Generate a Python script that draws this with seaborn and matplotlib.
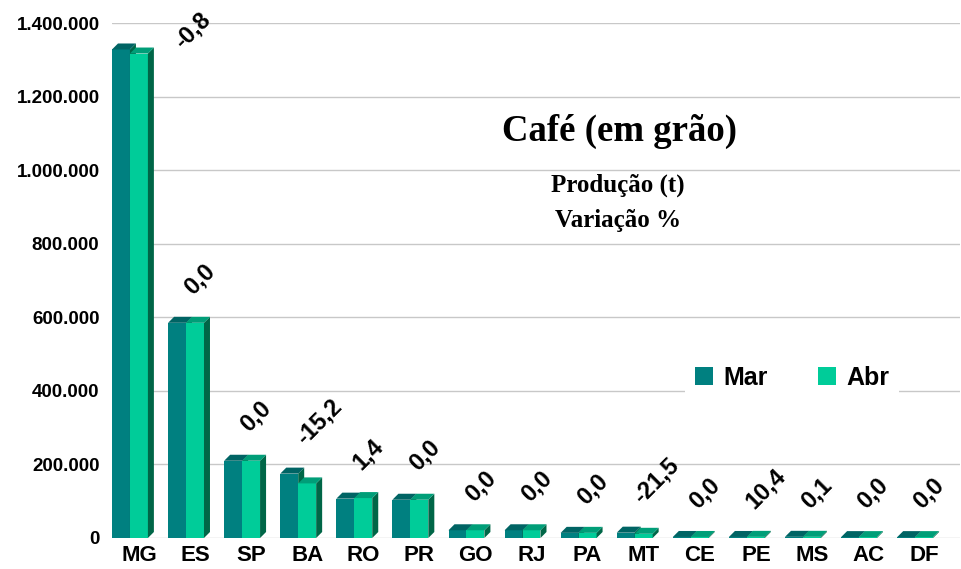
import pandas as pd
import matplotlib.pyplot as plt
import seaborn as sb
from matplotlib.patches import Polygon, Patch
from matplotlib.transforms import IdentityTransform, ScaledTranslation

# Produção de café em grão (t) por UF - março e abril
estados = ["MG", "ES", "SP", "BA", "RO", "PR", "GO", "RJ", "PA", "MT",
           "CE", "PE", "MS", "AC", "DF"]
producao_mar = [1328000, 585000, 210000, 175000, 107000, 104000, 21000, 21000,
                14000, 14500, 2800, 2800, 3200, 2400, 2400]
producao_abr = [1317000, 585000, 210000, 148400, 108500, 104000, 21000, 21000,
                14000, 11400, 2800, 3100, 3200, 2400, 2400]
variacao = ["-0,8", "0,0", "0,0", "-15,2", "1,4", "0,0", "0,0", "0,0", "0,0",
            "-21,5", "0,0", "10,4", "0,1", "0,0", "0,0"]
meses = ["Mar", "Abr"]
yticks = [0, 200000, 400000, 600000, 800000, 1000000, 1200000, 1400000]

cores = {"Mar": "#008080", "Abr": "#00CC99"}
cores_topo = {"Mar": "#006464", "Abr": "#009E78"}
cor_lado = "#006647"

df = pd.DataFrame({
    "Estado": estados * 2,
    "Mês": ["Mar"] * len(estados) + ["Abr"] * len(estados),
    "Produção": producao_mar + producao_abr,
})

sb.set_style("white")
plt.rcParams["font.family"] = ["Liberation Sans", "DejaVu Sans"]
plt.rcParams["text.color"] = "black"
plt.rcParams["xtick.color"] = "black"
plt.rcParams["ytick.color"] = "black"

fig = plt.figure(figsize=(9.62, 5.69), dpi=100)
ax = fig.add_axes([112 / 962, 31 / 569, 848 / 962, 515 / 569])

sb.barplot(data=df, x="Estado", y="Produção", hue="Mês", hue_order=meses,
           palette=cores, width=0.64, saturation=1, linewidth=0,
           legend=False, ax=ax)

ax.set_xlim(-0.32, 14.8)
ax.set_ylim(0, 1400000)
ax.set_yticks(yticks)
ax.set_yticklabels([f"{v:,}".replace(",", ".") for v in yticks],
                   fontsize=13.5, fontweight="bold", color="black")
ax.set_xticks(range(len(estados)))
ax.set_xticklabels(estados, fontsize=16, fontweight="bold", color="black")
ax.tick_params(axis="y", length=0, pad=9)
ax.tick_params(axis="x", length=0, pad=5)
for lab in ax.get_xticklabels():
    lab.set_transform(lab.get_transform() + ScaledTranslation(0.09, 0, fig.dpi_scale_trans))
ax.set_xlabel("")
ax.set_ylabel("")
ax.yaxis.grid(True, color="#c8c8c8", lw=1)
ax.set_axisbelow(True)
sb.despine(ax=ax, left=True, bottom=True)

# efeito 3D: faces lateral e superior de cada barra
fig.canvas.draw()
dx, dy = 6, 6
n = len(estados)
for k, barra in enumerate(list(ax.patches)):
    mes = meses[k // n]
    z = 2 if mes == "Mar" else 3
    barra.set_zorder(z)
    (x0, y0), (x1, y1) = ax.transData.transform(
        [(barra.get_x(), 0), (barra.get_x() + barra.get_width(), barra.get_height())])
    lado = [(x1, y0), (x1 + dx, y0 + dy), (x1 + dx, y1 + dy), (x1, y1)]
    topo = [(x0, y1), (x0 + dx, y1 + dy), (x1 + dx, y1 + dy), (x1, y1)]
    ax.add_patch(Polygon(lado, closed=True, facecolor=cor_lado, lw=0,
                         transform=IdentityTransform(), zorder=z + 0.1, clip_on=False))
    ax.add_patch(Polygon(topo, closed=True, facecolor=cores_topo[mes], lw=0,
                         transform=IdentityTransform(), zorder=z + 0.1, clip_on=False))

# rótulos de variação %
for i, txt in enumerate(variacao):
    alto = max(producao_mar[i], producao_abr[i])
    if alto > 0.85 * 1400000:
        desloc = (38, 0)
    else:
        desloc = (5, 20)
    ax.annotate(txt, (i, alto), xytext=desloc, textcoords="offset points",
                ha="left", va="baseline", rotation=45, rotation_mode="anchor",
                fontsize=17, fontweight="bold", color="black", zorder=5)

# títulos
serifa = ["Liberation Serif", "DejaVu Serif"]
fig.text(620 / 962, 1 - 131 / 569, "Café (em grão)", ha="center", va="center",
         family=serifa, fontsize=26.5, fontweight="bold", color="black")
fig.text(618 / 962, 1 - 185 / 569, "Produção (t)", ha="center", va="center",
         family=serifa, fontsize=18, fontweight="bold", color="black")
fig.text(618 / 962, 1 - 221 / 569, "Variação %", ha="center", va="center",
         family=serifa, fontsize=18, fontweight="bold", color="black")

# legenda
handles = [Patch(facecolor=cores[m], edgecolor="none") for m in meses]
leg = ax.legend(handles, meses, loc="center", ncol=2,
                bbox_to_anchor=(792 / 962, 1 - 378 / 569), bbox_transform=fig.transFigure,
                prop={"weight": "bold", "size": 18}, handlelength=0.75, handleheight=0.75,
                handletextpad=0.4, columnspacing=2.0, frameon=True, fancybox=False,
                borderpad=0.4)
leg.get_frame().set_facecolor("white")
leg.get_frame().set_edgecolor("none")
leg.get_frame().set_alpha(1)
for t in leg.get_texts():
    t.set_color("black")
leg.set_zorder(6)

fig.savefig("out.png", dpi=100)
